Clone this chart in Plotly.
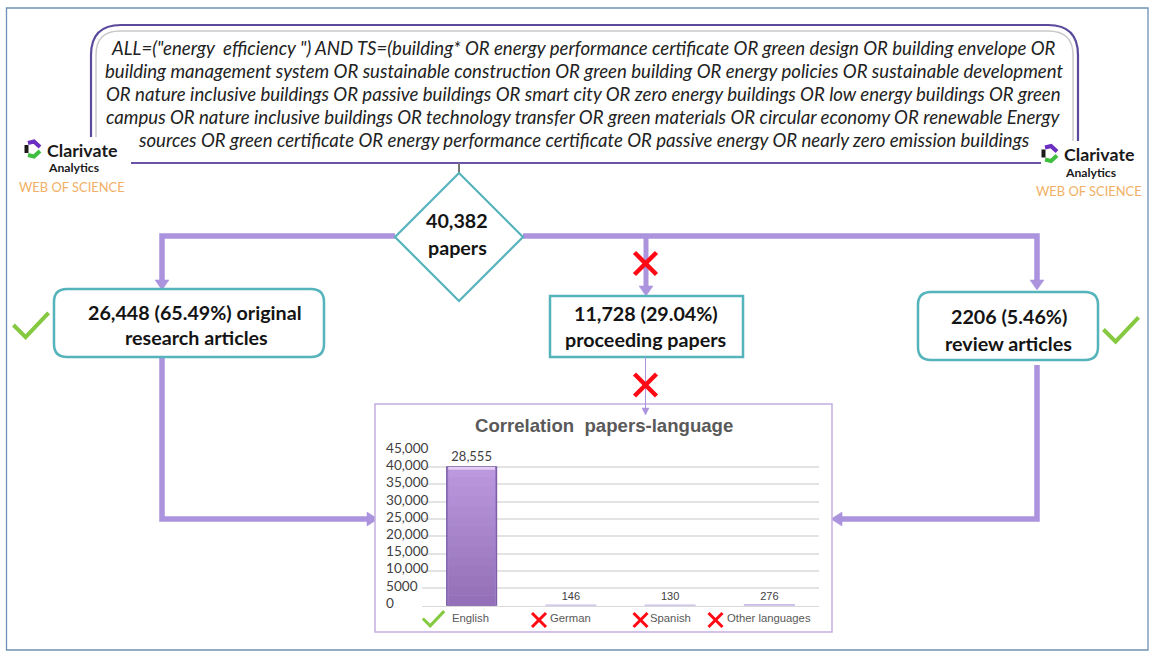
import plotly.graph_objects as go

W = 1154
H = 655

# chart values
languages = ['English', 'German', 'Spanish', 'Other languages']
paper_counts = [40000, 146, 130, 276]
count_labels = ['28,555', '146', '130', '276']
y_ticks = [0, 5000, 10000, 15000, 20000, 25000, 30000, 35000, 40000, 45000]
y_tick_labels = ['0', '5000', '10,000', '15,000', '20,000', '25,000', '30,000', '35,000', '40,000', '45,000']

query_lines = [
    'ALL=("energy  efficiency ") AND TS=(building* OR energy performance certificate OR green design OR building envelope OR',
    'building management system OR sustainable construction OR green building OR energy policies OR sustainable development',
    'OR nature inclusive buildings OR passive buildings OR smart city OR zero energy buildings OR low energy buildings OR green',
    'campus OR nature inclusive buildings OR technology transfer OR green materials OR circular economy OR renewable Energy',
    'sources OR green certificate OR energy performance certificate OR passive energy OR nearly zero emission buildings',
]
query_y = [48, 71, 94, 117, 140]

PURPLE = '#ab93de'
TEAL = '#55b3bb'
GREEN = '#84c93f'
RED = '#ff0a14'
FONT = 'Lato'

def px(x):
    return x / W

def py(y):
    return 1 - y / H

def pth(points, close=False):
    d = 'M' + ' L'.join(f'{px(x):.5f},{py(y):.5f}' for x, y in points)
    return d + (' Z' if close else '')

shapes = []
annots = []

def line(points, color=PURPLE, width=5.5):
    shapes.append(dict(type='path', path=pth(points), xref='paper', yref='paper',
                       line=dict(color=color, width=width), layer='below'))

def tri(points, color=PURPLE):
    shapes.append(dict(type='path', path=pth(points, True), xref='paper', yref='paper',
                       fillcolor=color, line=dict(color=color, width=0.5), layer='below'))

def rrect(x0, y0, x1, y1, r, color=TEAL, width=2.5):
    d = (f'M{px(x0 + r):.5f},{py(y0):.5f} L{px(x1 - r):.5f},{py(y0):.5f} '
         f'Q{px(x1):.5f},{py(y0):.5f} {px(x1):.5f},{py(y0 + r):.5f} '
         f'L{px(x1):.5f},{py(y1 - r):.5f} Q{px(x1):.5f},{py(y1):.5f} {px(x1 - r):.5f},{py(y1):.5f} '
         f'L{px(x0 + r):.5f},{py(y1):.5f} Q{px(x0):.5f},{py(y1):.5f} {px(x0):.5f},{py(y1 - r):.5f} '
         f'L{px(x0):.5f},{py(y0 + r):.5f} Q{px(x0):.5f},{py(y0):.5f} {px(x0 + r):.5f},{py(y0):.5f} Z')
    shapes.append(dict(type='path', path=d, xref='paper', yref='paper',
                       line=dict(color=color, width=width), fillcolor='white', layer='below'))

def text(x, y, s, size, color='#141414', bold=False, italic=False, family=FONT, anchor='center'):
    annots.append(dict(x=px(x), y=py(y), xref='paper', yref='paper', text=s, showarrow=False,
                       xanchor=anchor, yanchor='middle', borderpad=0,
                       font=dict(family=family, size=size, color=color,
                                 weight='bold' if bold else 'normal',
                                 style='italic' if italic else 'normal')))

def check(x, y, s=1.0, width=4):
    line([(x - 13 * s, y), (x - 4 * s, y + 9 * s), (x + 13 * s, y - 9 * s)], color=GREEN, width=width)

def cross(x, y, r=11, width=4.5):
    line([(x - r, y - r), (x + r, y + r)], color=RED, width=width)
    line([(x - r, y + r), (x + r, y - r)], color=RED, width=width)

# outer frame
shapes.append(dict(type='rect', x0=px(6.5), x1=px(1148), y0=py(8), y1=py(650), xref='paper', yref='paper',
                   line=dict(color='#6f90b5', width=1.3), layer='below'))

# query box: outer purple edge, then inner grey edge
line([(131, 163), (1041, 163)], color='#6a53a8', width=2)
shapes.append(dict(type='path', xref='paper', yref='paper', layer='below', line=dict(color='#5b4a9c', width=2.2),
                   path=(f'M{px(91):.5f},{py(137):.5f} L{px(91):.5f},{py(55):.5f} '
                         f'Q{px(91):.5f},{py(25):.5f} {px(121):.5f},{py(25):.5f} '
                         f'L{px(1048):.5f},{py(25):.5f} Q{px(1078):.5f},{py(25):.5f} {px(1078):.5f},{py(55):.5f} '
                         f'L{px(1078):.5f},{py(141):.5f}')))
shapes.append(dict(type='path', xref='paper', yref='paper', layer='below', line=dict(color='#c9c9c9', width=1.5),
                   path=(f'M{px(96):.5f},{py(137):.5f} L{px(96):.5f},{py(55):.5f} '
                         f'Q{px(96):.5f},{py(31):.5f} {px(120):.5f},{py(31):.5f} '
                         f'L{px(1048):.5f},{py(31):.5f} Q{px(1073):.5f},{py(31):.5f} {px(1073):.5f},{py(55):.5f} '
                         f'L{px(1073):.5f},{py(141):.5f}')))
for s, y in zip(query_lines, query_y):
    text(584, y, s, 18.6, color='#222222', italic=True)

# connectors
line([(459, 163), (459, 173)], color='#777777', width=2)
line([(395, 236), (162, 236), (162, 282)])
line([(523, 236), (1037, 236), (1037, 284)])
line([(646, 236), (646, 286)], width=5)
line([(162, 358), (162, 519), (370, 519)])
line([(1037, 365), (1037, 519), (840, 519)])
tri([(155, 280), (169, 280), (162, 290)])
tri([(1030, 280), (1044, 280), (1037, 290)])
tri([(639, 286), (653, 286), (646, 296)])
tri([(367, 512), (367, 526), (378, 519)])
tri([(842, 512), (842, 526), (831, 519)])

# nodes
shapes.append(dict(type='path', path=pth([(459, 173), (523, 237), (459, 301), (395, 237)], True),
                   xref='paper', yref='paper', fillcolor='white', line=dict(color=TEAL, width=2.2), layer='below'))
rrect(54, 289, 324, 357, 13)
rrect(918, 292, 1098, 360, 13)
shapes.append(dict(type='rect', x0=px(550), x1=px(743), y0=py(296), y1=py(357), xref='paper', yref='paper',
                   fillcolor='white', line=dict(color=TEAL, width=2.5), layer='below'))

text(457, 221, '40,382', 19.7, bold=True)
text(457, 247, 'papers', 19.7, bold=True)
text(195, 312, '26,448 (65.49%) original', 19.7, bold=True)
text(196, 338, 'research articles', 19.7, bold=True)
text(646, 313, '11,728 (29.04%)', 19.7, bold=True)
text(646, 339, 'proceeding papers', 19.7, bold=True)
text(1009, 317, '2206 (5.46%)', 19.7, bold=True)
text(1009, 343, 'review articles', 19.7, bold=True)

check(31, 325, 1.35)
check(1121, 329.5, 1.35)
cross(645.5, 263.5)

# chart panel
shapes.append(dict(type='rect', x0=px(375), x1=px(832), y0=py(404), y1=py(632), xref='paper', yref='paper',
                   fillcolor='white', line=dict(color='#c3aee0', width=1.5), layer='below'))
line([(645.5, 357), (645.5, 408)], width=1)
tri([(642, 408), (649, 408), (645.5, 415)])
cross(645.5, 385)
text(604, 425, 'Correlation  papers-language', 18.6, color='#595959', bold=True, family='Liberation Sans')
check(433.5, 618.5, 0.82, 3)
for x in [539, 640.5, 715.5]:
    cross(x, 620, 7, 3)
for x, name in zip([470, 570.5, 670.7, 769], languages):
    text(x, 618, name, 11.3, color='#595959', family='Liberation Sans')

# y tick labels sit left-aligned in the reference, so they are annotations on the y scale
for v, lab in zip(y_ticks, y_tick_labels):
    annots.append(dict(x=px(384), xref='paper', y=v, yref='y', text=lab, showarrow=False,
                       xanchor='left', yanchor='middle', yshift=3 - v / 5000 * 0.14,
                       font=dict(family=FONT, size=13.6, color='#404040')))

# shading on the tall bar, bottom darker than top
bands = 14
for i in range(bands):
    t = i / (bands - 1)
    c = f'rgb({int(148 + 40 * t)},{int(112 + 40 * t)},{int(184 + 38 * t)})'
    shapes.append(dict(type='rect', xref='x', yref='y', x0=-0.235, x1=0.235,
                       y0=paper_counts[0] * i / bands, y1=paper_counts[0] * (i + 1) / bands,
                       fillcolor=c, line=dict(width=0), layer='above'))
shapes.append(dict(type='rect', xref='x', yref='y', x0=-0.235, x1=0.235,
                   y0=paper_counts[0] * 0.98, y1=paper_counts[0],
                   fillcolor='#e3cdf5', line=dict(width=0), layer='above'))

# Clarivate logos
def logo(dx, dy):
    line([(28 + dx, 143 + dy), (34 + dx, 141.5 + dy), (40 + dx, 147 + dy)], color='#6a2fc0', width=4)
    line([(40 + dx, 151 + dy), (34 + dx, 156.5 + dy), (28 + dx, 155 + dy)], color='#3fbf3f', width=4)
    line([(26.5 + dx, 145 + dy), (26.5 + dx, 153 + dy)], color='#1a1a1a', width=4)
    text(46 + dx, 149.5 + dy, 'Clarivate', 17.8, color='#1a1a1a', bold=True, anchor='left')
    text(47 + dx, 167.5 + dy, 'Analytics', 12.2, color='#1a1a1a', bold=True, anchor='left')
    text(18 + dx, 187 + dy, 'WEB OF SCIENCE', 12.9, color='#f2b066', anchor='left')

logo(0, 0)
logo(1017, 4.5)

bar = go.Bar(x=languages, y=paper_counts, text=count_labels, textposition='outside',
             cliponaxis=False, width=0.5,
             textfont=dict(family=[FONT, 'Liberation Sans', 'Liberation Sans', 'Liberation Sans'],
                           size=[13, 11, 11, 11], color='#404040'),
             marker=dict(color=['#a98ad4', '#cdbde8', '#cdbde8', '#cdbde8'],
                         line=dict(color=['#7d5fa8', '#cdbde8', '#cdbde8', '#cdbde8'], width=1.5)))

fig = go.Figure(bar)
fig.update_layout(width=W, height=H, margin=dict(l=0, r=0, t=0, b=0, pad=0), showlegend=False,
                  paper_bgcolor='white', plot_bgcolor='rgba(0,0,0,0)',
                  shapes=shapes, annotations=annots, font=dict(family=FONT))
fig.update_xaxes(domain=[422 / W, 819 / W], showticklabels=False, ticks='', showline=True,
                 linecolor='#d9d9d9', showgrid=False, fixedrange=True, automargin=False)
fig.update_yaxes(domain=[1 - 605.7 / H, 1 - 449.7 / H], range=[0, 45000], tickvals=y_ticks,
                 showticklabels=False, gridcolor='#e3e3e3', gridwidth=1.5, zeroline=False,
                 ticks='', fixedrange=True, automargin=False)

fig.write_html("out.html", post_script="document.body.style.margin='0';",
               config=dict(displayModeBar=False))
